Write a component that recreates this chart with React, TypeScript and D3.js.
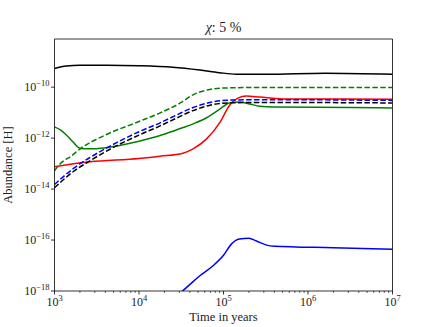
import React from "react";
import * as d3 from "d3";

// log10(time in years), log10(abundance) pairs
const blackSolid: [number, number][] = [
  [3.0, -9.27], [3.14, -9.17], [3.3, -9.14], [3.62, -9.14], [4.0, -9.16], [4.4, -9.22],
  [4.72, -9.33], [4.95, -9.43], [5.15, -9.49], [5.5, -9.49], [6.2, -9.45], [7.0, -9.49],
];
const greenDashed: [number, number][] = [
  [3.0, -13.28], [3.07, -13.0], [3.2, -12.7], [3.3, -12.43], [3.6, -11.88], [4.0, -11.35],
  [4.25, -11.01], [4.49, -10.62], [4.64, -10.3], [4.84, -10.09], [5.04, -10.03], [5.5, -10.01], [7.0, -10.01],
];
const blueDashed: [number, number][] = [
  [3.0, -13.82], [3.22, -13.2], [3.4, -12.8], [3.62, -12.38], [4.0, -11.75], [4.25, -11.4],
  [4.44, -11.1], [4.64, -10.8], [4.84, -10.6], [5.04, -10.51], [5.5, -10.49], [7.0, -10.52],
];
const blackDashed: [number, number][] = [
  [3.0, -13.95], [3.22, -13.32], [3.4, -12.93], [3.62, -12.5], [4.0, -11.88], [4.25, -11.52],
  [4.44, -11.22], [4.64, -10.92], [4.84, -10.71], [5.04, -10.62], [5.5, -10.6], [7.0, -10.62],
];
const greenSolid: [number, number][] = [
  [3.0, -11.56], [3.07, -11.68], [3.14, -11.88], [3.22, -12.15], [3.28, -12.36], [3.34, -12.42],
  [3.45, -12.42], [3.7, -12.33], [4.0, -12.12], [4.25, -11.9], [4.44, -11.68], [4.64, -11.44],
  [4.8, -11.2], [4.96, -10.85], [5.07, -10.62], [5.19, -10.58], [5.31, -10.66], [5.43, -10.75],
  [5.6, -10.78], [6.5, -10.8], [7.0, -10.82],
];
const redSolid: [number, number][] = [
  [3.0, -13.12], [3.42, -12.93], [4.0, -12.8], [4.25, -12.71], [4.52, -12.59], [4.64, -12.42],
  [4.8, -12.03], [4.96, -11.37], [5.07, -10.72], [5.17, -10.43], [5.27, -10.35], [5.43, -10.39],
  [5.7, -10.46], [7.0, -10.47],
];
const blueSolid: [number, number][] = [
  [4.4, -18.3], [4.48, -18.1], [4.6, -17.75], [4.72, -17.4], [4.88, -17.0], [5.0, -16.6],
  [5.09, -16.17], [5.19, -15.96], [5.3, -15.93], [5.39, -16.04], [5.51, -16.2], [5.6, -16.24],
  [6.3, -16.3], [7.0, -16.36],
];

const xTickExps = [3, 4, 5, 6, 7];
const yTickExps = [-18, -16, -14, -12, -10];

const series = [
  { data: greenSolid, color: "green", dashed: false },
  { data: redSolid, color: "red", dashed: false },
  { data: blackDashed, color: "black", dashed: true },
  { data: blueDashed, color: "blue", dashed: true },
  { data: greenDashed, color: "green", dashed: true },
  { data: blackSolid, color: "black", dashed: false },
  { data: blueSolid, color: "blue", dashed: false },
];

const W = 436;
const H = 327;
const left = 54.5, right = 392.5, top = 39, bottom = 291;
const font = "'Liberation Serif', 'DejaVu Serif', serif";

export default function App() {
  const x = d3.scaleLog().domain([1e3, 1e7]).range([left, right]);
  const y = d3.scaleLog().domain([1e-18, Math.pow(10, -8.11)]).range([bottom, top]);

  const line = d3
    .line<[number, number]>()
    .x(d => x(Math.pow(10, d[0])))
    .y(d => y(Math.pow(10, d[1])))
    .curve(d3.curveMonotoneX);

  const minorX: number[] = [];
  xTickExps.slice(0, -1).forEach(e => {
    for (let k = 2; k < 10; k++) minorX.push(k * Math.pow(10, e));
  });

  return (
    <svg
      width={W}
      height={H}
      style={{ position: "absolute", left: 0, top: 0, background: "white" }}
      fontFamily={font}
    >
      <defs>
        <clipPath id="plot">
          <rect x={left} y={top} width={right - left} height={bottom - top} />
        </clipPath>
      </defs>

      <g clipPath="url(#plot)">
        {series.map((s, i) => (
          <path
            key={i}
            d={line(s.data) || ""}
            fill="none"
            stroke={s.color}
            strokeWidth={1.5}
            strokeDasharray={s.dashed ? "5.5,2.4" : undefined}
          />
        ))}
      </g>

      {/* spines */}
      <line x1={left} x2={right} y1={top} y2={top} stroke="#000" strokeWidth={0.8} />
      <line x1={left} x2={right} y1={bottom} y2={bottom} stroke="#000" strokeWidth={0.8} />
      <line x1={left} x2={left} y1={top} y2={bottom} stroke="#000" strokeWidth={0.8} />
      <line x1={right} x2={right} y1={top} y2={bottom} stroke="#000" strokeWidth={0.8} />

      {/* x axis */}
      {minorX.map((v, i) => (
        <line key={`mx${i}`} x1={x(v)} x2={x(v)} y1={bottom} y2={bottom + 2} stroke="#000" strokeWidth={0.6} />
      ))}
      {xTickExps.map(e => {
        const px = x(Math.pow(10, e));
        return (
          <g key={`x${e}`}>
            <line x1={px} x2={px} y1={bottom} y2={bottom + 3.5} stroke="#000" strokeWidth={0.8} />
            <text x={px} y={bottom + 15} fontSize={12} textAnchor="middle" fill="#222">
              10<tspan fontSize={8.5} dy={-5}>{e}</tspan>
            </text>
          </g>
        );
      })}

      {/* y axis */}
      {yTickExps.map(e => {
        const py = y(Math.pow(10, e));
        return (
          <g key={`y${e}`}>
            <line x1={left - 3.5} x2={left} y1={py} y2={py} stroke="#000" strokeWidth={0.8} />
            <text x={left - 5} y={py + 4} fontSize={12} textAnchor="end" fill="#222">
              10<tspan fontSize={8.5} dy={-5}>{`\u2212${-e}`}</tspan>
            </text>
          </g>
        );
      })}

      <text x={(left + right) / 2} y={321} fontSize={12.5} textAnchor="middle" fill="#222">
        Time in years
      </text>
      <text
        transform={`translate(12, ${(top + bottom) / 2}) rotate(-90)`}
        fontSize={12.5}
        textAnchor="middle"
        fill="#222"
      >
        Abundance [H]
      </text>
      <text x={(left + right) / 2} y={32} fontSize={14} textAnchor="middle" fill="#222">
        <tspan fontStyle="italic">χ</tspan>: 5 %
      </text>
    </svg>
  );
}
